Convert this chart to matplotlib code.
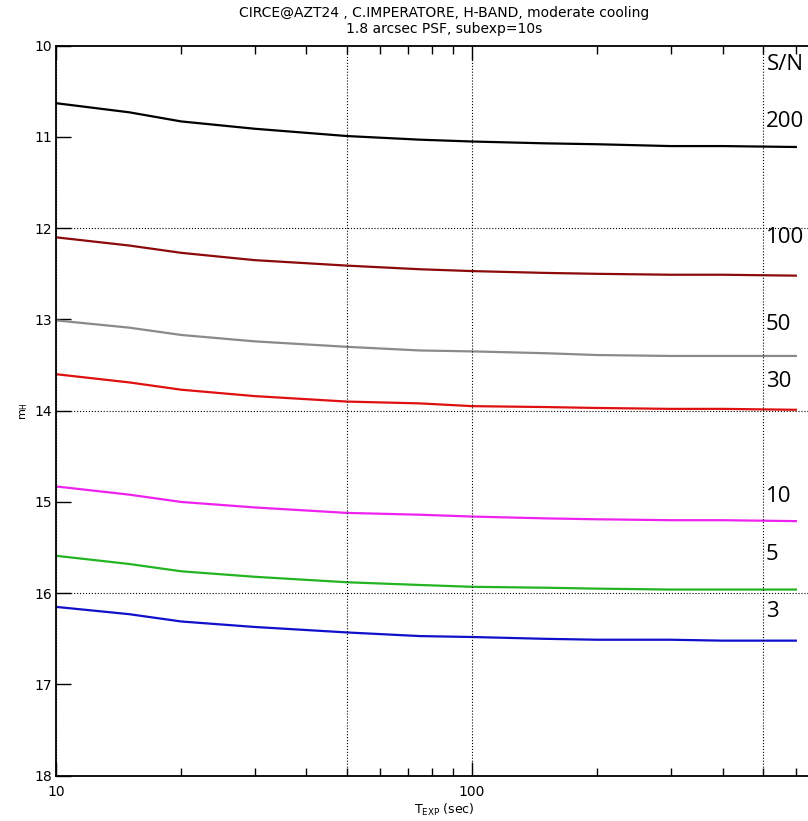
import numpy as np
import matplotlib
matplotlib.use('Agg')
import matplotlib.pyplot as plt
from matplotlib.ticker import FixedLocator, NullFormatter, FixedFormatter

# exposure times (sec) and limiting magnitudes
texp = [10, 15, 20, 30, 50, 75, 100, 150, 200, 300, 400, 600]
m_sn200 = [10.63, 10.73, 10.83, 10.91, 10.99, 11.03, 11.05, 11.07, 11.08, 11.10, 11.10, 11.11]
m_sn100 = [12.10, 12.19, 12.27, 12.35, 12.41, 12.45, 12.47, 12.49, 12.50, 12.51, 12.51, 12.52]
m_sn50 = [13.01, 13.09, 13.17, 13.24, 13.30, 13.34, 13.35, 13.37, 13.39, 13.40, 13.40, 13.40]
m_sn30 = [13.60, 13.69, 13.77, 13.84, 13.90, 13.92, 13.95, 13.96, 13.97, 13.98, 13.98, 13.99]
m_sn10 = [14.83, 14.92, 15.00, 15.06, 15.12, 15.14, 15.16, 15.18, 15.19, 15.20, 15.20, 15.21]
m_sn5 = [15.59, 15.68, 15.76, 15.82, 15.88, 15.91, 15.93, 15.94, 15.95, 15.96, 15.96, 15.96]
m_sn3 = [16.15, 16.23, 16.31, 16.37, 16.43, 16.47, 16.48, 16.50, 16.51, 16.51, 16.52, 16.52]

curves = [m_sn200, m_sn100, m_sn50, m_sn30, m_sn10, m_sn5, m_sn3]
colors = ['black', '#8c0a0a', '#8a8a8a', '#e01010', '#ee22ee', '#22b422', '#1010cc']
sn_labels = ['200', '100', '50', '30', '10', '5', '3']
# label y positions (in magnitudes) for the hand-added S/N annotations
sn_label_y = [10.83, 12.10, 13.05, 13.68, 14.94, 15.58, 16.20]

fig = plt.figure(figsize=(8.08, 8.21), dpi=100)
ax = fig.add_axes([56/808, 1-775.7/821, 776/808, 730/821])

for m, c in zip(curves, colors):
    ax.plot(texp, m, color=c, lw=1.6)

ax.set_xscale('log')
ax.set_xlim(10, 733)
ax.set_ylim(18, 10)

# dotted grid
for v in [10, 50, 100, 500]:
    ax.axvline(v, ls=':', color='k', lw=0.8)
for v in [12, 14, 16]:
    ax.axhline(v, ls=':', color='k', lw=0.8)

ax.xaxis.set_major_locator(FixedLocator([10, 100]))
ax.xaxis.set_major_formatter(FixedFormatter(['10', '100']))
ax.xaxis.set_minor_locator(FixedLocator([20, 30, 40, 50, 60, 70, 80, 90, 200, 300, 400, 500, 600, 700]))
ax.xaxis.set_minor_formatter(NullFormatter())
ax.set_yticks(range(10, 19))
ax.tick_params(axis='x', which='major', direction='in', length=10, width=1, top=True, pad=7, labelsize=10)
ax.tick_params(axis='x', which='minor', direction='in', length=6, width=1, top=True)
ax.tick_params(axis='y', which='major', direction='in', length=11, width=1, right=False, pad=3, labelsize=10)
for s in ['left', 'bottom', 'top']:
    ax.spines[s].set_linewidth(1.3)
ax.spines['right'].set_visible(False)

ax.set_xlabel(r'T$_{\mathrm{EXP}}$ (sec)', fontsize=9, labelpad=2)
ax.set_ylabel(r'm$_{\mathrm{H}}$', fontsize=8, labelpad=3)

fig.text(444/808, 1-13/821, 'CIRCE@AZT24 , C.IMPERATORE, H-BAND, moderate cooling',
         ha='center', va='center', fontsize=10)
fig.text(444/808, 1-29/821, '1.8 arcsec PSF, subexp=10s',
         ha='center', va='center', fontsize=10)

# S/N annotations
fig.text(767/808, 1-64/821, 'S/N', ha='left', va='center', fontsize=16, family='Open Sans')
for lab, y in zip(sn_labels, sn_label_y):
    ax.text(0.915, y, lab, transform=ax.get_yaxis_transform(), ha='left', va='center',
            fontsize=16, family='Open Sans')

fig.savefig('out.png', dpi=100)
